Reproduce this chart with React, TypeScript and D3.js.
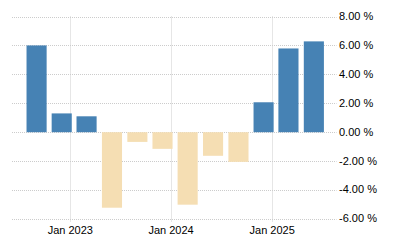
import React, { useRef, useEffect } from 'react';
import * as d3 from 'd3';

// quarterly values (%)
const periods = [
  '2022-09-01', '2022-12-01', '2023-03-01', '2023-06-01',
  '2023-09-01', '2023-12-01', '2024-03-01', '2024-06-01',
  '2024-09-01', '2024-12-01', '2025-03-01', '2025-06-01',
];
const values = [6.0, 1.3, 1.1, -5.22, -0.67, -1.15, -5.01, -1.63, -2.05, 2.07, 5.79, 6.28];
const yTicks = [8, 6, 4, 2, 0, -2, -4, -6];
const xTicks = ['2023-01-01', '2024-01-01', '2025-01-01'];

const App = () => {
  const chart = useRef<SVGSVGElement | null>(null);

  useEffect(() => {
    const svg = d3.select(chart.current);
    svg.selectAll('*').remove();

    const parse = d3.utcParse('%Y-%m-%d');
    const dates = periods.map((p) => parse(p) as Date);
    const data = dates.map((d, i) => ({ date: d, value: values[i] }));

    // plot area
    const left = 12;
    const right = 336.5;
    const top = 16.5;
    const bottom = 219;

    const x = d3
      .scaleUtc()
      .domain([d3.utcDay.offset(dates[0], -89), d3.utcDay.offset(dates[dates.length - 1], 82)])
      .range([left, right]);

    const y = d3.scaleLinear().domain([8, -6]).range([top, bottom]);

    const barW = (x(dates[1]) - x(dates[0])) * 0.8;

    // horizontal grid
    svg
      .append('g')
      .selectAll('line')
      .data(yTicks)
      .enter()
      .append('line')
      .attr('x1', left)
      .attr('x2', right)
      .attr('y1', (d) => Math.round(y(d)) + 0.5)
      .attr('y2', (d) => Math.round(y(d)) + 0.5)
      .attr('stroke', '#cccccc')
      .attr('stroke-dasharray', '1,1');

    // vertical grid
    const xt = xTicks.map((t) => parse(t) as Date);
    svg
      .append('g')
      .selectAll('line')
      .data(xt)
      .enter()
      .append('line')
      .attr('x1', (d) => Math.round(x(d)) + 0.5)
      .attr('x2', (d) => Math.round(x(d)) + 0.5)
      .attr('y1', top)
      .attr('y2', bottom + 3)
      .attr('stroke', '#cccccc')
      .attr('stroke-dasharray', '1,1');

    // bars
    svg
      .append('g')
      .selectAll('rect')
      .data(data)
      .enter()
      .append('rect')
      .attr('x', (d) => x(d.date) - barW / 2)
      .attr('width', barW)
      .attr('y', (d) => y(Math.max(0, d.value)))
      .attr('height', (d) => Math.abs(y(d.value) - y(0)))
      .attr('fill', (d) => (d.value >= 0 ? '#4682b4' : '#f5deb3'));

    // y labels on right
    svg
      .append('g')
      .selectAll('text')
      .data(yTicks)
      .enter()
      .append('text')
      .attr('x', 339)
      .attr('y', (d) => y(d) + 0.5)
      .attr('dominant-baseline', 'middle')
      .attr('font-family', 'Liberation Sans, Arial, sans-serif')
      .attr('font-size', 11)
      .attr('fill', '#000')
      .text((d) => d3.format('.2f')(d).replace('−', '-') + ' %');

    // x labels
    svg
      .append('g')
      .selectAll('text')
      .data(xt)
      .enter()
      .append('text')
      .attr('x', (d) => x(d))
      .attr('y', 234)
      .attr('text-anchor', 'middle')
      .attr('font-family', 'Liberation Sans, Arial, sans-serif')
      .attr('font-size', 11)
      .attr('fill', '#000')
      .text((d) => d3.utcFormat('%b %Y')(d));
  }, []);

  return (
    <svg
      ref={chart}
      width={400}
      height={250}
      style={{ position: 'absolute', left: 0, top: 0, background: '#fff' }}
    />
  );
};

export default App;
